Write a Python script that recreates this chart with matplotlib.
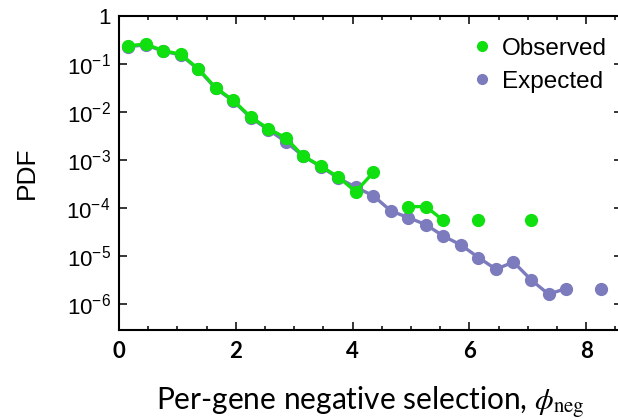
import numpy as np
import matplotlib
matplotlib.use("Agg")
import matplotlib.pyplot as plt
from matplotlib.ticker import FixedLocator, MultipleLocator

plt.rcParams['font.family'] = ['Liberation Sans', 'DejaVu Sans']
plt.rcParams['mathtext.fontset'] = 'custom'
plt.rcParams['mathtext.rm'] = 'Liberation Sans'
plt.rcParams['mathtext.it'] = 'Liberation Sans:italic'

# bin centres (per-gene negative selection)
phi = 0.155 + 0.3 * np.arange(28)

# observed PDF, nan = empty bin
obs = [0.24, 0.26, 0.19, 0.16, 0.080, 0.032, 0.0175, 0.0079, 0.0045, 0.0029,
       0.0012, 7.5e-4, 4.4e-4, 2.2e-4, 5.5e-4, np.nan, 1.07e-4, 1.07e-4, 5.5e-5,
       np.nan, 5.5e-5, np.nan, np.nan, 5.5e-5, np.nan, np.nan, np.nan, np.nan]

# expected PDF
exp_ = [0.23, 0.25, 0.185, 0.155, 0.078, 0.031, 0.017, 0.0076, 0.0043, 0.0024,
        0.0012, 7.3e-4, 4.2e-4, 2.7e-4, 1.8e-4, 8.7e-5, 6.3e-5, 4.5e-5, 2.6e-5,
        1.7e-5, 9.3e-6, 5.3e-6, 7.5e-6, 3.2e-6, 1.6e-6, 2.1e-6, np.nan, 2.1e-6]

green = '#10df10'
purple = '#7b7bbd'

fig = plt.figure(figsize=(6.18, 4.20), dpi=100)
ax = fig.add_axes([119/618, 1-330/420, 503/618, 314/420])

ax.plot(phi, exp_, '-o', color=purple, lw=2.4, ms=8.5, label='Expected', zorder=2)
ax.plot(phi, obs, '-o', color=green, lw=2.4, ms=8.5, label='Observed', zorder=3)

ax.set_yscale('log')
ax.set_xlim(0, 503/58.4)
ax.set_ylim(10**(-314/48), 1)

ax.xaxis.set_major_locator(MultipleLocator(2))
ax.xaxis.set_minor_locator(MultipleLocator(0.5))
yt = [1, 1e-1, 1e-2, 1e-3, 1e-4, 1e-5, 1e-6]
ax.yaxis.set_major_locator(FixedLocator(yt))
ax.yaxis.set_minor_locator(FixedLocator([]))
ax.set_yticklabels(['1'] + [r'$\mathregular{10^{-%d}}$' % k for k in range(1, 7)])
for lab in ax.get_xticklabels():
    lab.set_family(['Lato', 'DejaVu Sans'])
    lab.set_fontweight('bold')

ax.tick_params(which='both', direction='in', top=True, right=True, width=1.1)
ax.tick_params(which='major', length=6, labelsize=16, pad=6)
ax.tick_params(axis='x', which='major', labelsize=16, pad=8)
ax.tick_params(which='minor', length=3)
for s in ax.spines.values():
    s.set_linewidth(1.5)

ax.set_ylabel('PDF', fontsize=19, labelpad=20)
ax.set_xlabel(r'Per-gene negative selection, $\phi_{\mathrm{neg}}$', fontsize=21.5,
              family=['Lato', 'DejaVu Sans'], math_fontfamily='stix', labelpad=16)

h, l = ax.get_legend_handles_labels()
leg = ax.legend([h[1], h[0]], [l[1], l[0]], loc='upper right', frameon=False,
                fontsize=17.5, handlelength=0.6, handletextpad=0.5, labelspacing=0.45,
                borderaxespad=0.5, bbox_to_anchor=(1.013, 1.0))
for hd in leg.legend_handles:
    hd.set_linestyle('none')
    hd.set_markersize(7)

fig.savefig('out.png', dpi=100)
